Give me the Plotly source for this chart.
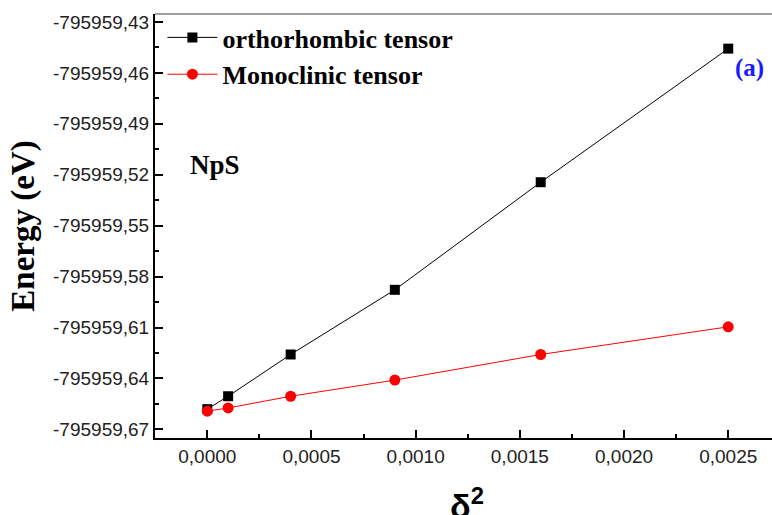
import plotly.graph_objects as go

# strain squared (delta^2)
delta_sq = [0.0, 0.0001, 0.0004, 0.0009, 0.0016, 0.0025]

# total energies (eV)
e_ortho = [-795959.6581, -795959.6505, -795959.6259, -795959.5878, -795959.5244, -795959.4457]
e_mono = [-795959.6593, -795959.6574, -795959.6505, -795959.6410, -795959.6259, -795959.6096]

# axis ticks
x_ticks = [0.0, 0.0005, 0.0010, 0.0015, 0.0020, 0.0025]
x_labels = ["0,0000", "0,0005", "0,0010", "0,0015", "0,0020", "0,0025"]
y_ticks = [-795959.43, -795959.46, -795959.49, -795959.52, -795959.55,
           -795959.58, -795959.61, -795959.64, -795959.67]
y_labels = ["-795959,43", "-795959,46", "-795959,49", "-795959,52", "-795959,55",
            "-795959,58", "-795959,61", "-795959,64", "-795959,67"]

serif = "Liberation Serif, Times New Roman, serif"
sans = "Liberation Sans, Arial, sans-serif"

fig = go.Figure()
fig.add_trace(go.Scatter(
    x=delta_sq, y=e_ortho, mode="lines+markers", name="<b>orthorhombic tensor</b>",
    line=dict(color="black", width=1),
    marker=dict(symbol="square", size=10, color="black"),
))
fig.add_trace(go.Scatter(
    x=delta_sq, y=e_mono, mode="lines+markers", name="<b>Monoclinic tensor</b>",
    line=dict(color="red", width=1),
    marker=dict(symbol="circle", size=11, color="red"),
))

axis_common = dict(
    showgrid=False, zeroline=False, showline=True, linecolor="black", linewidth=2,
    ticks="inside", ticklen=8, tickwidth=1.5, tickcolor="black",
    tickfont=dict(family=sans, size=19, color="#222"),
    automargin=False,
)

fig.update_xaxes(
    **axis_common,
    range=[-0.000251, 0.00271],
    tickvals=x_ticks, ticktext=x_labels,
    minor=dict(ticks="inside", ticklen=4, tickcolor="black", tickwidth=1.5,
               tick0=0.00025, dtick=0.0005),
)
fig.update_yaxes(
    **axis_common,
    range=[-795959.6751, -795959.4253],
    tickvals=y_ticks, ticktext=y_labels,
    minor=dict(ticks="inside", ticklen=4, tickcolor="black", tickwidth=1.5,
               tick0=-795959.445, dtick=0.03),
    title=dict(text="<b>Energy (eV)</b>", font=dict(family=serif, size=33, color="black"),
               standoff=8),
)

# x-axis title placed just under the tick labels
fig.add_annotation(text="<b>δ<sup>2</sup></b>", xref="paper", yref="paper",
                   x=0.505, y=-0.098, xanchor="center", yanchor="top",
                   showarrow=False,
                   font=dict(family=sans, size=34, color="black"))

# thin frame line along the top of the plotting area
fig.add_shape(type="line", xref="paper", yref="paper", x0=0, x1=1, y0=1, y1=1,
              line=dict(color="#808080", width=1.5))

fig.add_annotation(text="<b>NpS</b>", xref="x", yref="y", x=-0.000093, y=-795959.5144,
                   showarrow=False, xanchor="left", yanchor="middle",
                   font=dict(family=serif, size=27, color="black"))
fig.add_annotation(text="<b>(a)</b>", xref="paper", yref="paper", x=0.99, y=0.873,
                   showarrow=False, xanchor="right", yanchor="middle",
                   font=dict(family=serif, size=25, color="#1a1aff"))

fig.update_layout(
    width=772, height=515,
    margin=dict(l=155, r=0, t=14, b=77),
    paper_bgcolor="white", plot_bgcolor="white",
    showlegend=True,
    legend=dict(x=0.012, y=1.0, xanchor="left", yanchor="top",
                bgcolor="rgba(0,0,0,0)", tracegroupgap=0, itemwidth=50,
                font=dict(family=serif, size=26, color="black")),
)

fig.write_html("out.html")
